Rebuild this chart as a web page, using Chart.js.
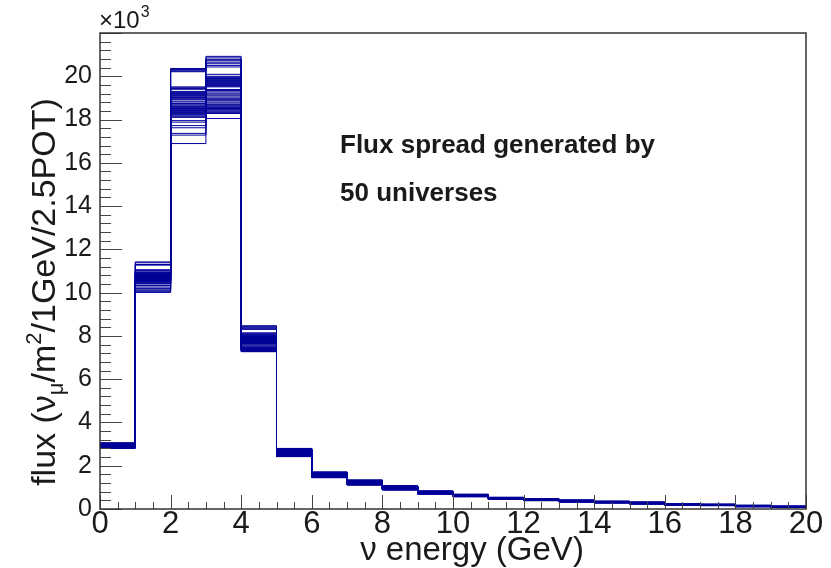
<!DOCTYPE html>
<html>
<head>
<meta charset="utf-8">
<script src="https://cdn.jsdelivr.net/npm/chart.js@4.4.0/dist/chart.umd.min.js"></script>
<style>
  html, body { margin: 0; padding: 0; background: #fff; }
</style>
</head>
<body>
<canvas id="fluxChart" width="831" height="568"></canvas>
<script>
// bin edges in GeV (1 GeV bins)
const binEdges = [0,1,2,3,4,5,6,7,8,9,10,11,12,13,14,15,16,17,18,19,20];
const xTickLabels = [0,2,4,6,8,10,12,14,16,18,20];
const yTickLabels = [0,2,4,6,8,10,12,14,16,18,20];

// flux (x10^3) of the 50 universes in each bin, read top to bottom
const bin0 = [3.06,3.05,3.04,3.03,3.02,3.02,3.01,3.00,3.00,2.99,2.99,2.98,2.98,2.97,2.97,2.96,2.96,2.95,2.95,2.95,2.94,2.94,2.94,2.93,2.93,2.93,2.92,2.92,2.92,2.91,2.91,2.91,2.90,2.90,2.90,2.89,2.89,2.88,2.88,2.87,2.87,2.86,2.86,2.85,2.85,2.84,2.83,2.82,2.81,2.80];
const bin1 = [11.42,11.38,11.30,11.27,11.06,11.02,10.96,10.94,10.92,10.90,10.88,10.86,10.85,10.83,10.82,10.80,10.79,10.78,10.76,10.75,10.74,10.72,10.71,10.70,10.68,10.67,10.66,10.65,10.63,10.62,10.61,10.60,10.58,10.57,10.56,10.55,10.53,10.51,10.49,10.46,10.42,10.40,10.33,10.26,10.20,10.17,10.12,10.08,10.04,10.01];
const bin2 = [20.36,20.31,20.28,20.24,20.21,19.51,19.47,19.43,19.40,19.30,19.27,19.24,19.21,19.18,19.15,19.12,19.09,19.05,19.02,19.00,18.96,18.92,18.85,18.81,18.74,18.71,18.66,18.60,18.57,18.54,18.51,18.48,18.45,18.42,18.39,18.36,18.33,18.30,18.27,18.24,18.20,18.15,18.10,17.95,17.88,17.72,17.62,17.36,17.28,16.89];
const bin3 = [20.92,20.85,20.78,20.72,20.65,20.58,20.50,20.43,20.09,20.00,19.96,19.93,19.90,19.87,19.84,19.81,19.78,19.75,19.72,19.69,19.66,19.63,19.60,19.57,19.54,19.51,19.39,19.34,19.28,19.22,19.17,19.10,19.04,18.98,18.92,18.87,18.81,18.76,18.70,18.66,18.62,18.58,18.55,18.51,18.47,18.43,18.38,18.33,18.28,18.05];
const bin4 = [8.47,8.44,8.38,8.35,8.30,8.14,8.12,8.08,8.05,8.03,8.01,7.99,7.97,7.95,7.93,7.92,7.90,7.88,7.87,7.85,7.84,7.82,7.81,7.79,7.78,7.76,7.75,7.73,7.72,7.70,7.69,7.67,7.66,7.64,7.62,7.58,7.54,7.50,7.47,7.45,7.43,7.41,7.39,7.37,7.35,7.33,7.31,7.30,7.28,7.27];
const bin5 = [2.80,2.79,2.78,2.77,2.76,2.75,2.74,2.73,2.72,2.71,2.70,2.69,2.68,2.67,2.66,2.66,2.65,2.64,2.63,2.63,2.62,2.61,2.61,2.60,2.59,2.59,2.58,2.57,2.57,2.56,2.56,2.55,2.54,2.54,2.53,2.52,2.52,2.51,2.50,2.50,2.49,2.48,2.48,2.47,2.46,2.46,2.45,2.44,2.43,2.42];
const bin6 = [1.71,1.70,1.70,1.69,1.68,1.68,1.67,1.66,1.66,1.65,1.65,1.64,1.63,1.63,1.62,1.62,1.61,1.61,1.60,1.60,1.59,1.59,1.58,1.58,1.57,1.57,1.56,1.56,1.55,1.55,1.54,1.54,1.53,1.53,1.52,1.52,1.51,1.51,1.50,1.50,1.49,1.49,1.48,1.48,1.47,1.47,1.46,1.46,1.45,1.45];
const bin7 = [1.34,1.33,1.33,1.32,1.32,1.31,1.31,1.30,1.30,1.29,1.29,1.28,1.28,1.27,1.27,1.26,1.26,1.25,1.25,1.24,1.24,1.23,1.23,1.23,1.22,1.22,1.22,1.21,1.21,1.21,1.20,1.20,1.19,1.19,1.18,1.18,1.17,1.17,1.16,1.16,1.15,1.15,1.14,1.14,1.13,1.13,1.12,1.12,1.11,1.11];
const bin8 = [1.07,1.07,1.06,1.06,1.05,1.05,1.04,1.04,1.03,1.03,1.02,1.02,1.01,1.01,1.00,1.00,0.99,0.99,0.99,0.98,0.98,0.98,0.97,0.97,0.97,0.96,0.96,0.96,0.95,0.95,0.95,0.94,0.94,0.94,0.93,0.93,0.93,0.92,0.92,0.92,0.91,0.91,0.91,0.90,0.90,0.90,0.89,0.89,0.88,0.88];
const bin9 = [0.83,0.83,0.82,0.82,0.82,0.81,0.81,0.81,0.80,0.80,0.80,0.79,0.79,0.79,0.78,0.78,0.78,0.77,0.77,0.77,0.76,0.76,0.76,0.76,0.75,0.75,0.75,0.75,0.74,0.74,0.74,0.74,0.73,0.73,0.73,0.73,0.72,0.72,0.72,0.72,0.71,0.71,0.71,0.71,0.70,0.70,0.70,0.70,0.69,0.69];
const bin10 = [0.68,0.68,0.67,0.67,0.67,0.66,0.66,0.66,0.66,0.65,0.65,0.65,0.65,0.64,0.64,0.64,0.64,0.63,0.63,0.63,0.63,0.63,0.62,0.62,0.62,0.62,0.62,0.61,0.61,0.61,0.61,0.61,0.60,0.60,0.60,0.60,0.60,0.59,0.59,0.59,0.59,0.59,0.58,0.58,0.58,0.58,0.58,0.57,0.57,0.57];
const bin11 = [0.54,0.54,0.53,0.53,0.53,0.53,0.52,0.52,0.52,0.52,0.51,0.51,0.51,0.51,0.51,0.50,0.50,0.50,0.50,0.50,0.50,0.49,0.49,0.49,0.49,0.49,0.49,0.48,0.48,0.48,0.48,0.48,0.48,0.47,0.47,0.47,0.47,0.47,0.47,0.46,0.46,0.46,0.46,0.46,0.46,0.45,0.45,0.45,0.45,0.45];
const bin12 = [0.48,0.48,0.47,0.47,0.47,0.46,0.46,0.46,0.46,0.45,0.45,0.45,0.45,0.45,0.44,0.44,0.44,0.44,0.44,0.44,0.43,0.43,0.43,0.43,0.43,0.43,0.42,0.42,0.42,0.42,0.42,0.42,0.41,0.41,0.41,0.41,0.41,0.41,0.40,0.40,0.40,0.40,0.40,0.40,0.39,0.39,0.39,0.39,0.39,0.39];
const bin13 = [0.41,0.41,0.41,0.40,0.40,0.40,0.40,0.39,0.39,0.39,0.39,0.39,0.38,0.38,0.38,0.38,0.38,0.38,0.37,0.37,0.37,0.37,0.37,0.37,0.37,0.36,0.36,0.36,0.36,0.36,0.36,0.36,0.35,0.35,0.35,0.35,0.35,0.35,0.35,0.34,0.34,0.34,0.34,0.34,0.34,0.33,0.33,0.33,0.33,0.33];
const bin14 = [0.36,0.36,0.35,0.35,0.35,0.35,0.34,0.34,0.34,0.34,0.34,0.33,0.33,0.33,0.33,0.33,0.33,0.32,0.32,0.32,0.32,0.32,0.32,0.32,0.31,0.31,0.31,0.31,0.31,0.31,0.31,0.31,0.30,0.30,0.30,0.30,0.30,0.30,0.30,0.30,0.30,0.29,0.29,0.29,0.29,0.29,0.29,0.29,0.29,0.29];
const bin15 = [0.32,0.32,0.31,0.31,0.31,0.30,0.30,0.30,0.30,0.29,0.29,0.29,0.29,0.29,0.28,0.28,0.28,0.28,0.28,0.28,0.27,0.27,0.27,0.27,0.27,0.27,0.27,0.26,0.26,0.26,0.26,0.26,0.26,0.26,0.26,0.25,0.25,0.25,0.25,0.25,0.25,0.25,0.25,0.24,0.24,0.24,0.24,0.24,0.24,0.24];
const bin16 = [0.25,0.25,0.24,0.24,0.24,0.24,0.23,0.23,0.23,0.23,0.23,0.22,0.22,0.22,0.22,0.22,0.22,0.22,0.21,0.21,0.21,0.21,0.21,0.21,0.21,0.21,0.20,0.20,0.20,0.20,0.20,0.20,0.20,0.20,0.20,0.19,0.19,0.19,0.19,0.19,0.19,0.19,0.19,0.18,0.18,0.18,0.18,0.18,0.18,0.18];
const bin17 = [0.22,0.22,0.22,0.21,0.21,0.21,0.21,0.21,0.20,0.20,0.20,0.20,0.20,0.20,0.19,0.19,0.19,0.19,0.19,0.19,0.19,0.19,0.18,0.18,0.18,0.18,0.18,0.18,0.18,0.18,0.18,0.17,0.17,0.17,0.17,0.17,0.17,0.17,0.17,0.17,0.17,0.16,0.16,0.16,0.16,0.16,0.16,0.16,0.16,0.16];
const bin18 = [0.17,0.17,0.17,0.16,0.16,0.16,0.16,0.16,0.15,0.15,0.15,0.15,0.15,0.15,0.15,0.14,0.14,0.14,0.14,0.14,0.14,0.14,0.14,0.13,0.13,0.13,0.13,0.13,0.13,0.13,0.13,0.13,0.13,0.12,0.12,0.12,0.12,0.12,0.12,0.12,0.12,0.12,0.11,0.11,0.11,0.11,0.11,0.11,0.11,0.11];
const bin19 = [0.13,0.13,0.13,0.12,0.12,0.12,0.12,0.12,0.12,0.11,0.11,0.11,0.11,0.11,0.11,0.11,0.11,0.10,0.10,0.10,0.10,0.10,0.10,0.10,0.10,0.10,0.10,0.10,0.09,0.09,0.09,0.09,0.09,0.09,0.09,0.09,0.09,0.09,0.09,0.09,0.08,0.08,0.08,0.08,0.08,0.08,0.08,0.08,0.08,0.08];

const bins = [bin0,bin1,bin2,bin3,bin4,bin5,bin6,bin7,bin8,bin9,bin10,bin11,bin12,bin13,bin14,bin15,bin16,bin17,bin18,bin19];
const nUniverses = 50;

const lineColor = '#000099';
const textColor = '#1a1a1a';
const helv = '"Liberation Sans", Arial, sans-serif';

// one stepped outline per universe
var datasets = [];
for (var u = 0; u < nUniverses; u++) {
    var pts = [];
    for (var b = 0; b < bins.length; b++) {
        pts.push({ x: binEdges[b], y: bins[b][u] });
    }
    // close the last bin at the upper edge
    pts.push({ x: binEdges[bins.length], y: bins[bins.length - 1][u] });
    datasets.push({
        label: 'universe ' + u,
        data: pts,
        stepped: 'before',
        borderColor: lineColor,
        borderWidth: 1,
        pointRadius: 0,
        fill: false
    });
}

// ROOT-like frame, inner ticks and the texts that need sub/superscripts
const rootStyle = {
    id: 'rootStyle',
    afterDatasetsDraw: function (chart) {
        var ctx = chart.ctx;
        var area = chart.chartArea;
        var xs = chart.scales.x, ys = chart.scales.y;
        ctx.save();

        // ticks
        ctx.strokeStyle = '#444';
        ctx.lineWidth = 1;
        ctx.beginPath();
        for (var i = 0; i <= 40; i++) {
            var px = Math.round(xs.getPixelForValue(i * 0.5)) + 0.5;
            var len = (i % 4 === 0) ? 14 : 7;
            ctx.moveTo(px, area.bottom);
            ctx.lineTo(px, area.bottom - len);
        }
        for (var j = 0; j <= 55; j++) {
            var py = Math.round(ys.getPixelForValue(j * 0.4)) + 0.5;
            var l2 = (j % 5 === 0) ? 22 : 11;
            ctx.moveTo(area.left, py);
            ctx.lineTo(area.left + l2, py);
        }
        ctx.stroke();

        // frame
        ctx.strokeStyle = '#333';
        ctx.lineWidth = 1.5;
        ctx.strokeRect(area.left, area.top, area.right - area.left, area.bottom - area.top);

        // x10^3
        ctx.fillStyle = textColor;
        ctx.textBaseline = 'alphabetic';
        ctx.textAlign = 'left';
        ctx.font = '24px ' + helv;
        ctx.fillText('\u00d710', area.left - 1, 28);
        var w10 = ctx.measureText('\u00d710').width;
        ctx.font = '16px ' + helv;
        ctx.fillText('3', area.left + w10, 17);

        // annotation
        ctx.font = 'bold 26px ' + helv;
        ctx.fillText('Flux spread generated by', 340, 153);
        ctx.fillText('50 universes', 340, 201);

        // x title
        ctx.font = '33px ' + helv;
        ctx.textAlign = 'center';
        ctx.fillText('\u03bd energy (GeV)', 472, 560);
        ctx.textAlign = 'left';

        // y title with subscript mu and superscript 2
        var parts = [
            { t: 'flux (\u03bd', s: 34, dy: 0 },
            { t: '\u03bc', s: 22, dy: 8 },
            { t: '/m', s: 34, dy: 0 },
            { t: '2', s: 22, dy: -14 },
            { t: '/1GeV/2.5POT)', s: 34, dy: 0 }
        ];
        var total = 0;
        parts.forEach(function (p) {
            ctx.font = p.s + 'px ' + helv;
            p.w = ctx.measureText(p.t).width;
            total += p.w;
        });
        ctx.translate(55, 292);
        ctx.rotate(-Math.PI / 2);
        var cx = -total / 2;
        parts.forEach(function (p) {
            ctx.font = p.s + 'px ' + helv;
            ctx.fillText(p.t, cx, p.dy);
            cx += p.w;
        });
        ctx.restore();
    }
};

var fluxCtx = document.getElementById('fluxChart').getContext('2d');
new Chart(fluxCtx, {
    type: 'line',
    data: { datasets: datasets },
    options: {
        events: [],
        responsive: false,
        animation: false,
        layout: { padding: { top: 33, right: 25, left: 0, bottom: 0 } },
        scales: {
            x: {
                type: 'linear',
                min: 0,
                max: 20,
                afterFit: function (scale) { scale.height = 59; },
                afterBuildTicks: function (scale) {
                    scale.ticks = xTickLabels.map(function (v) { return { value: v }; });
                },
                grid: { display: false, drawTicks: false },
                border: { display: false },
                ticks: {
                    autoSkip: false,
                    maxRotation: 0,
                    padding: -3,
                    color: textColor,
                    font: { family: '"Liberation Sans Narrow", "Liberation Sans", sans-serif', size: 31 }
                }
            },
            y: {
                type: 'linear',
                min: 0,
                max: 22,
                afterFit: function (scale) { scale.width = 100; },
                afterBuildTicks: function (scale) {
                    scale.ticks = yTickLabels.map(function (v) { return { value: v }; });
                },
                grid: { display: false, drawTicks: false },
                border: { display: false },
                ticks: {
                    autoSkip: false,
                    padding: 8,
                    color: textColor,
                    font: { family: helv, size: 25 }
                }
            }
        },
        plugins: {
            legend: { display: false },
            tooltip: { enabled: false }
        }
    },
    plugins: [rootStyle]
});
</script>
</body>
</html>
